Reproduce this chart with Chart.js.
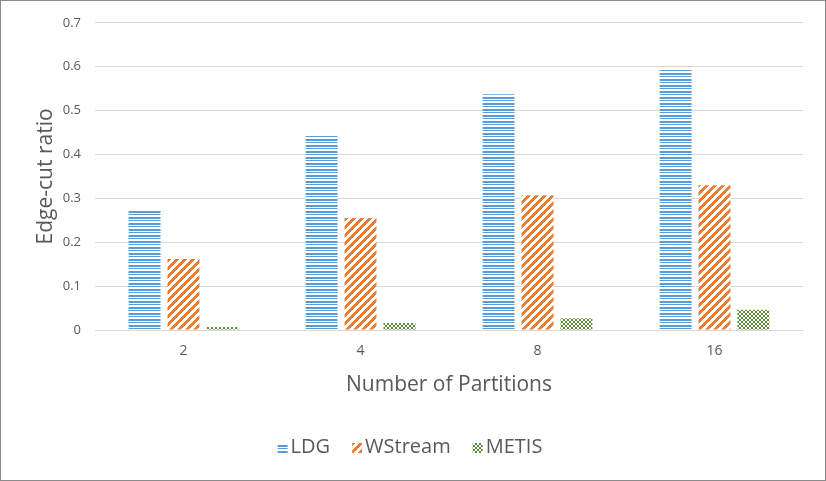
<!DOCTYPE html>
<html>
<head>
<meta charset="utf-8">
<script src="https://cdn.jsdelivr.net/npm/chart.js@4/dist/chart.umd.min.js"></script>
<style>
  html, body { margin: 0; padding: 0; background: #fff; }
  #wrap { width: 826px; height: 481px; box-sizing: border-box; border: 1px solid #8c8c8c; position: relative; }
  canvas { display: block; }
</style>
</head>
<body>
<div id="wrap"><canvas id="chart" width="824" height="479"></canvas></div>
<script>
var partitions = ['2', '4', '8', '16'];
var ldg = [0.273, 0.443, 0.537, 0.593];
var wstream = [0.162, 0.255, 0.307, 0.330];
var metis = [0.007, 0.016, 0.027, 0.046];
var yTicks = [0, 0.1, 0.2, 0.3, 0.4, 0.5, 0.6, 0.7];

// little tiles for the Excel style fill patterns
function makePattern(w, h, color, test) {
    var c = document.createElement('canvas');
    c.width = w;
    c.height = h;
    var g = c.getContext('2d');
    g.fillStyle = '#ffffff';
    g.fillRect(0, 0, w, h);
    g.fillStyle = color;
    for (var x = 0; x < w; x++) {
        for (var y = 0; y < h; y++) {
            if (test(x, y)) g.fillRect(x, y, 1, 1);
        }
    }
    return document.getElementById('chart').getContext('2d').createPattern(c, 'repeat');
}

var ldgFill = makePattern(1, 6, '#5b9bd5', function (x, y) { return y === 0 || y === 1 || y === 3; });
var wsFill = makePattern(8, 8, '#ed7d31', function (x, y) { return (x + y) % 8 < 4; });
var metisFill = makePattern(4, 4, '#5a8a36', function (x, y) {
    return (Math.floor(x / 2) + Math.floor(y / 2)) % 2 === 0;
});

var txt = '#595959';
var font = "'Open Sans', 'Noto Sans', sans-serif";

// legend drawn by hand: Excel puts the text right next to the swatch
var excelLegend = {
    id: 'excelLegend',
    afterDraw: function (chart) {
        var ctx = chart.ctx;
        var sets = chart.data.datasets;
        var box = 10, gapText = 3, gapItem = 22, cy = 446;
        ctx.save();
        ctx.font = '20px ' + font;
        ctx.textBaseline = 'middle';
        var widths = sets.map(function (d) { return ctx.measureText(d.label).width; });
        var total = 0;
        widths.forEach(function (w, i) {
            total += box + gapText + w + (i < widths.length - 1 ? gapItem : 0);
        });
        var x = chart.width / 2 - total / 2 - 3;
        sets.forEach(function (d, i) {
            ctx.fillStyle = d.backgroundColor;
            ctx.fillRect(x, cy - box / 2 + 1, box, box);
            ctx.fillStyle = txt;
            ctx.fillText(d.label, x + box + gapText, cy);
            x += box + gapText + widths[i] + gapItem;
        });
        ctx.restore();
    }
};

new Chart(document.getElementById('chart'), {
    type: 'bar',
    data: {
        labels: partitions,
        datasets: [
            { label: 'LDG', data: ldg, backgroundColor: ldgFill, borderWidth: 0 },
            { label: 'WStream', data: wstream, backgroundColor: wsFill, borderWidth: 0 },
            { label: 'METIS', data: metis, backgroundColor: metisFill, borderWidth: 0 }
        ]
    },
    plugins: [excelLegend],
    options: {
        responsive: false,
        animation: false,
        layout: { padding: { left: 32, right: 22, top: 17, bottom: 82 } },
        datasets: {
            bar: { categoryPercentage: 0.66, barPercentage: 0.82 }
        },
        plugins: {
            tooltip: { enabled: false },
            legend: { display: false }
        },
        scales: {
            x: {
                grid: { display: false, drawTicks: false },
                border: { display: true, color: '#d9d9d9' },
                ticks: { color: txt, font: { family: font, size: 14 }, padding: 13 },
                title: {
                    display: true, text: 'Number of Partitions', color: txt,
                    font: { family: font, size: 21 }, padding: { top: 0, bottom: 0 }
                },
                afterFit: function (s) { s.height = 68; }
            },
            y: {
                min: 0,
                max: 0.7,
                afterBuildTicks: function (s) {
                    s.ticks = yTicks.map(function (v) { return { value: v }; });
                },
                grid: { color: '#d9d9d9', drawTicks: false },
                border: { display: false },
                ticks: {
                    color: txt, font: { family: font, size: 13 }, padding: 14,
                    callback: function (v) { return String(Math.round(v * 10) / 10); }
                },
                title: {
                    display: true, text: 'Edge-cut ratio', color: txt,
                    font: { family: font, size: 21 }, padding: { top: 0, bottom: 0 }
                },
                afterFit: function (s) { s.width = 62; }
            }
        }
    }
});
</script>
</body>
</html>
